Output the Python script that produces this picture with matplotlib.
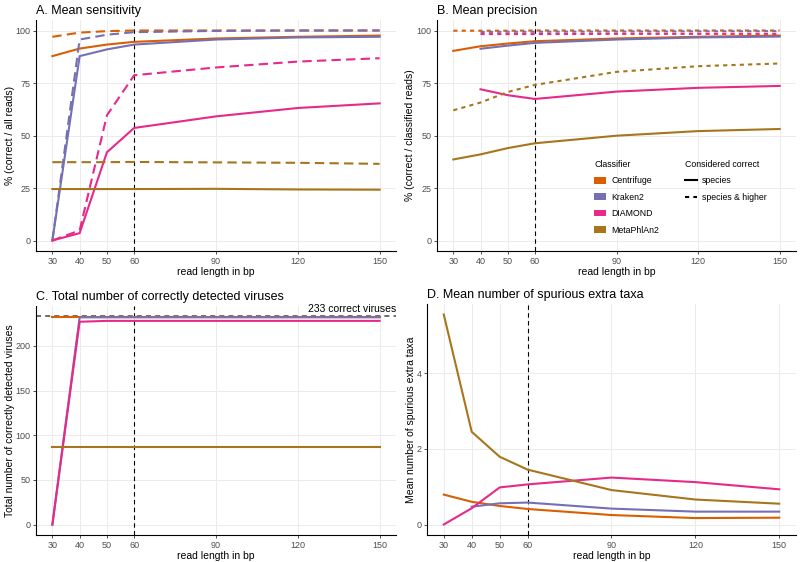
import numpy as np
import matplotlib
matplotlib.use('Agg')
import matplotlib.pyplot as plt
from matplotlib.patches import Patch
from matplotlib.lines import Line2D

plt.rcParams['font.family'] = ['Liberation Sans', 'DejaVu Sans']

nan = np.nan
read_len = [30, 40, 50, 60, 90, 120, 150]
classifiers = ['Centrifuge', 'Kraken2', 'DIAMOND', 'MetaPhlAn2']
colors = ['#D95F02', '#7570B3', '#E7298A', '#A6761D']

# A. sensitivity
sens_species = [
    [87.8, 91.4, 93.3, 94.6, 96.2, 97.0, 97.6],
    [0.0, 87.8, 91.0, 93.3, 95.7, 96.7, 97.0],
    [0.0, 3.5, 42.0, 53.6, 59.1, 63.1, 65.3],
    [24.5, 24.5, 24.5, 24.5, 24.6, 24.3, 24.2],
]
sens_higher = [
    [97.0, 99.0, 99.7, 100.0, 100.0, 100.0, 100.0],
    [0.0, 95.7, 98.0, 99.2, 99.8, 100.0, 100.0],
    [0.0, 4.8, 59.6, 78.7, 82.4, 85.2, 86.8],
    [37.3, 37.3, 37.3, 37.4, 37.2, 37.0, 36.5],
]
# B. precision
prec_species = [
    [90.3, 92.5, 93.8, 94.9, 96.2, 97.0, 97.6],
    [nan, 91.3, 92.8, 94.1, 95.7, 96.7, 97.1],
    [nan, 72.0, 69.2, 67.4, 70.9, 72.7, 73.6],
    [38.6, 41.0, 44.0, 46.3, 49.9, 52.1, 53.1],
]
prec_higher = [
    [99.9, 99.9, 99.9, 100.0, 100.0, 100.0, 100.0],
    [nan, 99.3, 99.4, 99.4, 99.5, 99.6, 99.7],
    [nan, 98.3, 98.3, 98.3, 98.4, 98.4, 98.4],
    [62.0, 65.7, 70.7, 74.1, 80.3, 83.0, 84.3],
]
# C. correctly detected viruses
n_correct = [
    [232, 232, 232, 232, 232, 232, 232],
    [0, 232, 232, 232, 232, 232, 232],
    [0, 227, 228, 228, 228, 228, 228],
    [87, 87, 87, 87, 87, 87, 87],
]
total_viruses = 233
# D. spurious extra taxa
extra_taxa = [
    [0.79, 0.60, 0.49, 0.41, 0.25, 0.17, 0.18],
    [nan, 0.47, 0.56, 0.58, 0.42, 0.34, 0.34],
    [0.0, 0.43, 0.98, 1.06, 1.24, 1.12, 0.93],
    [5.55, 2.45, 1.79, 1.45, 0.91, 0.66, 0.55],
]

fig = plt.figure(figsize=(8, 5.62), dpi=100)
W, H = 800, 562


def px_axes(x0, y0, x1, y1):
    return fig.add_axes([x0 / W, 1 - y1 / H, (x1 - x0) / W, (y1 - y0) / H])


def style(ax, title, ylabel, yticks, ylim):
    ax.set_xlim(24, 156)
    ax.set_ylim(*ylim)
    ax.set_xticks(read_len)
    ax.set_yticks(yticks)
    ax.grid(True, color='#EBEBEB', lw=0.7)
    ax.set_axisbelow(True)
    for s in ['top', 'right']:
        ax.spines[s].set_visible(False)
    for s in ['left', 'bottom']:
        ax.spines[s].set_color('black')
        ax.spines[s].set_linewidth(0.8)
    ax.tick_params(colors='#333333', labelcolor='#4D4D4D', labelsize=6.5,
                   length=2.5, width=0.6, pad=1.5)
    ax.set_xlabel('read length in bp', fontsize=7.5, labelpad=1)
    ax.set_ylabel(ylabel, fontsize=7.5)
    ax.set_title(title, fontsize=9, loc='left', pad=4)
    ax.axvline(60, color='black', lw=0.8, ls=(0, (4, 3)), zorder=1)


LONG = (0, (4.5, 2.5))
SHORT = (0, (2.0, 2.0))

axA = px_axes(36, 20, 396, 251)
for i in range(4):
    axA.plot(read_len, sens_species[i], color=colors[i], lw=1.5)
    axA.plot(read_len, sens_higher[i], color=colors[i], lw=1.5, ls=LONG)
style(axA, 'A. Mean sensitivity', '% (correct / all reads)', [0, 25, 50, 75, 100], (-5, 105))

axB = px_axes(437, 20, 796, 251)
for i in range(4):
    axB.plot(read_len, prec_species[i], color=colors[i], lw=1.5)
    axB.plot(read_len, prec_higher[i], color=colors[i], lw=1.5, ls=SHORT)
style(axB, 'B. Mean precision', '% (correct / classified reads)', [0, 25, 50, 75, 100], (-5, 105))

leg1 = axB.legend(handles=[Patch(facecolor=c, edgecolor='none', label=l)
                           for c, l in zip(colors, classifiers)],
                  title='Classifier', loc='upper left', bbox_to_anchor=(0.428, 0.41),
                  frameon=False, fontsize=6.3, title_fontsize=6.3,
                  handlelength=1.4, handleheight=0.8, labelspacing=0.85,
                  handletextpad=0.6, borderaxespad=0)
leg1._legend_box.align = 'left'
axB.add_artist(leg1)
leg2 = axB.legend(handles=[Line2D([], [], color='black', lw=1.5, label='species'),
                           Line2D([], [], color='black', lw=1.5, ls=SHORT, label='species & higher')],
                  title='Considered correct', loc='upper left', bbox_to_anchor=(0.68, 0.41),
                  frameon=False, fontsize=6.3, title_fontsize=6.3,
                  handlelength=1.4, labelspacing=0.85, handletextpad=0.6, borderaxespad=0)
leg2._legend_box.align = 'left'

axC = px_axes(36, 306, 396, 535)
axC.axhline(total_viruses, color='#555555', lw=1.2, ls=(0, (3, 2.5)), zorder=1)
for i in range(4):
    axC.plot(read_len, n_correct[i], color=colors[i], lw=1.5)
style(axC, 'C. Total number of correctly detected viruses', 'Total number of correctly detected viruses',
      [0, 50, 100, 150, 200], (-11.65, 244.65))
axC.text(156, total_viruses + 3, f'{total_viruses} correct viruses', ha='right', va='bottom',
         fontsize=7.5, clip_on=False)

axD = px_axes(427, 304, 796, 535)
for i in range(4):
    axD.plot(read_len, extra_taxa[i], color=colors[i], lw=1.5)
style(axD, 'D. Mean number of spurious extra taxa', 'Mean number of spurious extra taxa',
      [0, 2, 4], (-0.2775, 5.8275))

for ax in (axA, axC):
    ax.yaxis.set_label_coords(-0.058, 0.5)
axB.yaxis.set_label_coords(-0.061, 0.5)
axD.yaxis.set_label_coords(-0.030, 0.5)

fig.savefig('out.png', dpi=100)
